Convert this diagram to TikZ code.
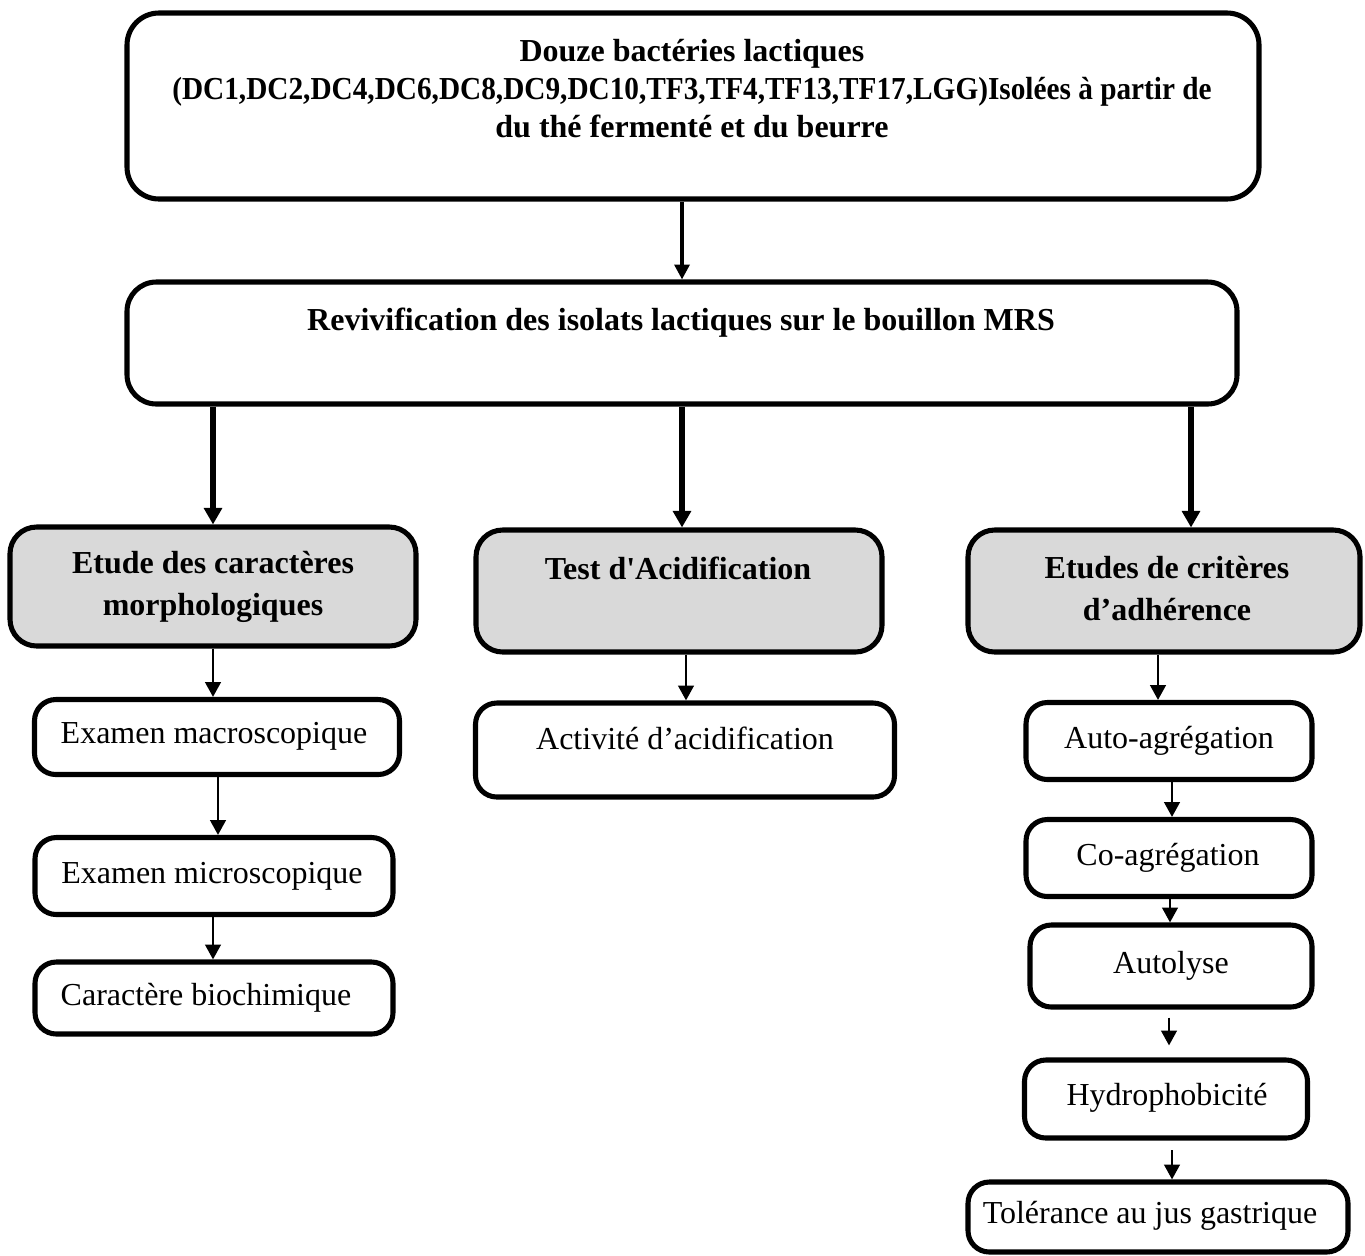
\documentclass[tikz,border=0pt]{standalone}
\usepackage{graphicx}
\usepackage{fontspec}
\setmainfont{Liberation Serif}
\usetikzlibrary{arrows.meta}
\definecolor{boxgray}{HTML}{D9D9D9}
\begin{document}
\begin{tikzpicture}[x=0.375pt,y=-0.375pt,
  sz/.style 2 args={minimum width=#1*0.375pt, minimum height=#2*0.375pt},
  box/.style={draw, line width=1.9pt, rounded corners=8pt, inner sep=0pt},
  graybox/.style={box, fill=boxgray, rounded corners=10pt},
  txt/.style={font=\fontsize{12}{14.4}\selectfont, inner sep=0pt, anchor=base},
  btxt/.style={font=\fontsize{12}{14.4}\selectfont\bfseries, inner sep=0pt, anchor=base},
  arrT/.style={line width=1.3pt, -{Triangle[length=5.6pt,width=5.6pt]}},
  arrK/.style={line width=2.2pt, -{Triangle[length=6.2pt,width=6.6pt]}},
  arrS/.style={line width=1.1pt, -{Triangle[length=5.6pt,width=5.8pt]}}
]
\useasboundingbox (0,0) rectangle (1365,1255);

% boxes
\node[box, rounded corners=12pt, sz={1132}{186}] (top) at (693,106) {};
\node[box, rounded corners=11pt, sz={1110}{122}] (reviv) at (682,343) {};
\node[graybox, sz={406}{119}] (morph) at (213,586.5) {};
\node[graybox, sz={406}{122}] (acid) at (679,591) {};
\node[graybox, sz={392}{122}] (crit) at (1164,591) {};
\node[box, sz={365}{75}] (exmac) at (217,737) {};
\node[box, sz={358}{77}] (exmic) at (214,876) {};
\node[box, sz={358}{72}] (carac) at (214,998) {};
\node[box, sz={419}{94}] (activ) at (685,750) {};
\node[box, sz={286}{77}] (autoag) at (1169,741) {};
\node[box, sz={286}{77}] (coag) at (1169,858) {};
\node[box, sz={282}{82}] (autol) at (1171,966) {};
\node[box, sz={283}{78}] (hydro) at (1166,1099) {};
\node[box, sz={380}{70}] (toler) at (1158,1217) {};

% texts
\node[btxt] (ttop) at (692,61) {\setlength{\tabcolsep}{0pt}\begin{tabular}[t]{c}Douze bactéries lactiques\\\scalebox{0.915}[1]{(DC1,DC2,DC4,DC6,DC8,DC9,DC10,TF3,TF4,TF13,TF17,LGG)Isolées à partir de}\\du thé fermenté et du beurre\end{tabular}};
\node[btxt] (treviv) at (681,330) {Revivification des isolats lactiques sur le bouillon MRS};
\node[btxt] (tmorph) at (213,573) {\fontsize{12}{15.75}\selectfont\setlength{\tabcolsep}{0pt}\begin{tabular}[t]{c}Etude des caractères\\morphologiques\end{tabular}};
\node[btxt] (tacid) at (678,579) {Test d\textquotesingle Acidification};
\node[btxt] (tcrit) at (1167,578) {\fontsize{12}{15.75}\selectfont\setlength{\tabcolsep}{0pt}\begin{tabular}[t]{c}Etudes de critères\\d’adhérence\end{tabular}};
\node[txt] (texmac) at (214,743) {Examen macroscopique};
\node[txt] (texmic) at (212,883) {Examen microscopique};
\node[txt] (tcarac) at (206,1005) {Caractère biochimique};
\node[txt] (tactiv) at (685,749) {Activité d’acidification};
\node[txt] (tautoag) at (1169,748) {Auto-agrégation};
\node[txt] (tcoag) at (1168,865) {Co-agrégation};
\node[txt] (tautol) at (1171,973) {Autolyse};
\node[txt] (thydro) at (1167,1105) {Hydrophobicité};
\node[txt] (ttoler) at (1150,1223) {Tolérance au jus gastrique};

% arrow x positions
\coordinate (x0) at (682,0);
\coordinate (x1) at (213,0);
\coordinate (x2) at (682,0);
\coordinate (x3) at (1191,0);
\coordinate (x4) at (213,0);
\coordinate (x5) at (218,0);
\coordinate (x6) at (213,0);
\coordinate (x7) at (686,0);
\coordinate (x8) at (1158,0);
\coordinate (x9) at (1172,0);
\coordinate (x10) at (1170,0);
\coordinate (x11) at (1169,0);
\coordinate (x12) at (1172,0);

% connectors
\draw[arrT] (top.south -| x0) -- (reviv.north -| x0);
\draw[arrK] (reviv.south -| x1) -- (morph.north -| x1);
\draw[arrK] (reviv.south -| x2) -- (acid.north -| x2);
\draw[arrK] (reviv.south -| x3) -- (crit.north -| x3);
\draw[arrS] (morph.south -| x4) -- (exmac.north -| x4);
\draw[arrS] (exmac.south -| x5) -- (exmic.north -| x5);
\draw[arrS] (exmic.south -| x6) -- (carac.north -| x6);
\draw[arrS] (acid.south -| x7) -- (activ.north -| x7);
\draw[arrS] (crit.south -| x8) -- (autoag.north -| x8);
\draw[arrS] (autoag.south -| x9) -- (coag.north -| x9);
\draw[arrS] (coag.south -| x10) -- (autol.north -| x10);
\draw[arrS, shorten <=3pt, shorten >=4.5pt] (autol.south -| x11) -- (hydro.north -| x11);
\draw[arrS, shorten <=3.7pt] (hydro.south -| x12) -- (toler.north -| x12);
\end{tikzpicture}
\end{document}
